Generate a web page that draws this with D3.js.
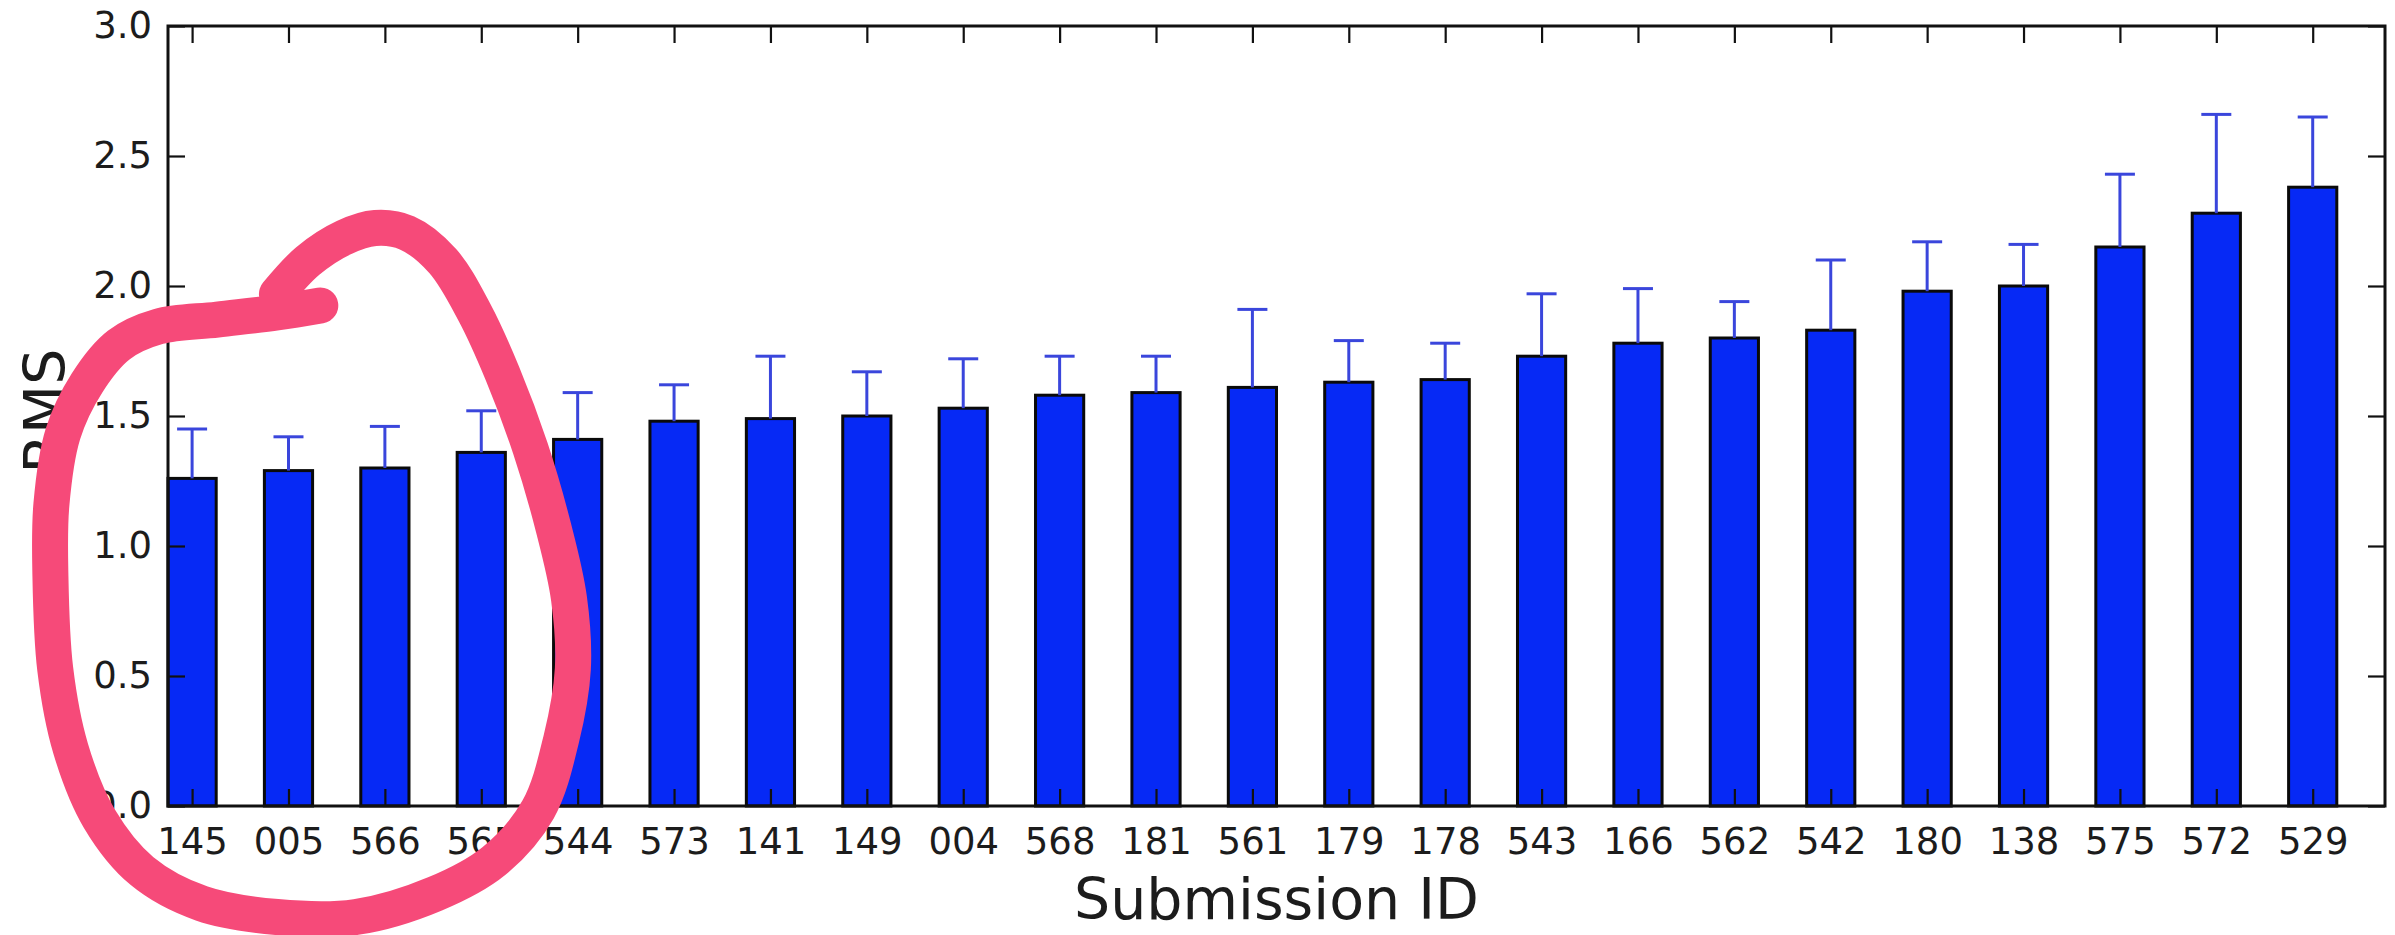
<!DOCTYPE html>
<html>
<head>
<meta charset="utf-8">
<script src="https://cdn.jsdelivr.net/npm/d3@7"></script>
<style>
  html, body { margin: 0; padding: 0; background: #ffffff; }
  svg { display: block; }
  text { font-family: "DejaVu Sans", sans-serif; }
</style>
</head>
<body>
<svg id="chart" width="2395" height="935"></svg>
<script>
// ---- data ----
const submissionIds = ["145","005","566","565","544","573","141","149","004","568","181","561","179","178","543","166","562","542","180","138","575","572","529"];
const rmsValues = [1.26,1.29,1.30,1.36,1.41,1.48,1.49,1.50,1.53,1.58,1.59,1.61,1.63,1.64,1.73,1.78,1.80,1.83,1.98,2.00,2.15,2.28,2.38];
const rmsErrors = [0.19,0.13,0.16,0.16,0.18,0.14,0.24,0.17,0.19,0.15,0.14,0.30,0.16,0.14,0.24,0.21,0.14,0.27,0.19,0.16,0.28,0.38,0.27];
const yTickValues = [0.0, 0.5, 1.0, 1.5, 2.0, 2.5, 3.0];
const xLabel = "Submission ID";
const yLabel = "RMS";
// hand-drawn highlight (data coordinates: [bar position, RMS])
const highlightPath = [
  [1.58,1.925],[1.13,1.898],[0.51,1.871],[-0.10,1.844],[-0.51,1.773],[-0.84,1.627],
  [-1.09,1.431],[-1.21,1.158],[-1.22,0.888],[-1.17,0.527],[-1.01,0.221],[-0.71,-0.050],
  [-0.27,-0.250],[0.35,-0.375],[1.13,-0.427],[1.95,-0.427],[2.77,-0.338],[3.38,-0.212],
  [3.84,-0.013],[4.08,0.258],[4.20,0.527],[4.16,0.798],[4.00,1.069],[3.76,1.375],
  [3.47,1.663],[3.18,1.898],[2.85,2.096],[2.48,2.204],[2.15,2.223],[1.83,2.187],
  [1.45,2.096],[1.13,1.969]
];

(function () {
// ---- layout ----
const svg = d3.select("#chart");
const mLeft = 168, mRight = 2385, mTop = 26, mBottom = 806;
const barWidth = 0.5;

const x = d3.scaleLinear().domain([0, submissionIds.length]).range([mLeft, mRight]);
const y = d3.scaleLinear().domain([0, 3]).range([mBottom, mTop]);

const data = submissionIds.map((id, i) => ({ id, i, v: rmsValues[i], e: rmsErrors[i] }));

// bars
svg.append("g").selectAll("rect").data(data).join("rect")
  .attr("x", d => x(d.i))
  .attr("y", d => y(d.v))
  .attr("width", d => x(d.i + barWidth) - x(d.i))
  .attr("height", d => y(0) - y(d.v))
  .attr("fill", "#0629f5")
  .attr("stroke", "#0a0a0a")
  .attr("stroke-width", 3);

// error bars (upper part visible)
const eb = svg.append("g").attr("stroke", "#3a46dc").attr("stroke-width", 3);
eb.selectAll("line.v").data(data).join("line").attr("class", "v")
  .attr("x1", d => x(d.i + barWidth / 2)).attr("x2", d => x(d.i + barWidth / 2))
  .attr("y1", d => y(d.v)).attr("y2", d => y(d.v + d.e));
eb.selectAll("line.c").data(data).join("line").attr("class", "c")
  .attr("x1", d => x(d.i + barWidth / 2) - 15).attr("x2", d => x(d.i + barWidth / 2) + 15)
  .attr("y1", d => y(d.v + d.e)).attr("y2", d => y(d.v + d.e));

// axes
const tickPos = data.map(d => d.i + barWidth / 2);
const fontSize = 37;
const tickLen = 17;

const gx = svg.append("g").attr("transform", `translate(0,${mBottom})`)
  .call(d3.axisBottom(x).tickValues(tickPos).tickFormat((d, i) => submissionIds[i]).tickSize(-tickLen).tickPadding(22));
const gxt = svg.append("g").attr("transform", `translate(0,${mTop})`)
  .call(d3.axisTop(x).tickValues(tickPos).tickFormat("").tickSize(-tickLen));
const gy = svg.append("g").attr("transform", `translate(${mLeft},0)`)
  .call(d3.axisLeft(y).tickValues(yTickValues).tickFormat(d3.format(".1f")).tickSize(-tickLen).tickPadding(16));
const gyr = svg.append("g").attr("transform", `translate(${mRight},0)`)
  .call(d3.axisRight(y).tickValues(yTickValues).tickFormat("").tickSize(-tickLen));

[gx, gxt, gy, gyr].forEach(g => {
  g.select(".domain").remove();
  g.selectAll(".tick line").attr("stroke", "#111").attr("stroke-width", 2.2);
  g.selectAll(".tick text").attr("fill", "#1c1c1c")
    .style("font-family", "'DejaVu Sans', sans-serif").style("font-size", fontSize + "px");
});

// frame
svg.append("rect")
  .attr("x", mLeft).attr("y", mTop)
  .attr("width", mRight - mLeft).attr("height", mBottom - mTop)
  .attr("fill", "none").attr("stroke", "#111").attr("stroke-width", 3);

// axis labels
svg.append("text")
  .attr("x", (mLeft + mRight) / 2).attr("y", 919)
  .attr("text-anchor", "middle")
  .attr("fill", "#1c1c1c")
  .style("font-size", "57px")
  .text(xLabel);

svg.append("text")
  .attr("transform", `translate(65,${(mTop + mBottom) / 2 - 5}) rotate(-90)`)
  .attr("text-anchor", "middle")
  .attr("fill", "#1c1c1c")
  .style("font-size", "57px")
  .text(yLabel);

// hand-drawn highlight
svg.append("path")
  .datum(highlightPath)
  .attr("d", d3.line().x(d => x(d[0])).y(d => y(d[1])).curve(d3.curveCatmullRom.alpha(0.5)))
  .attr("fill", "none")
  .attr("stroke", "#f64a79")
  .attr("stroke-width", 36)
  .attr("stroke-linecap", "round")
  .attr("stroke-linejoin", "round");
})();
</script>
</body>
</html>
